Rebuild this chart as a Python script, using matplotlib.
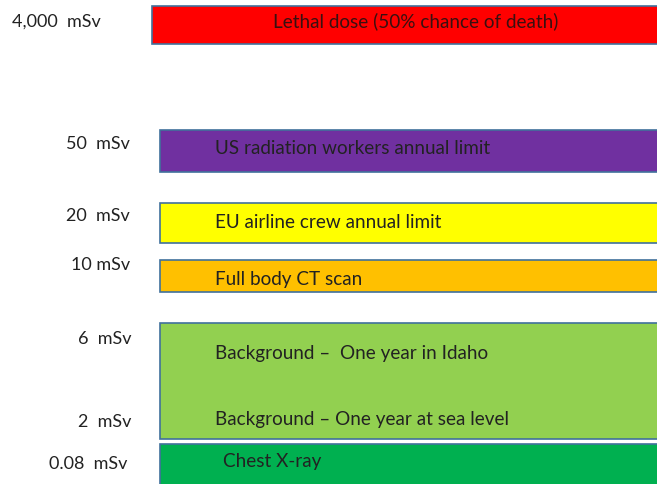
import matplotlib.pyplot as plt

# doses and what they mean
dose_labels = ["4,000  mSv", "50  mSv", "20  mSv", "10 mSv", "6  mSv", "2  mSv", "0.08  mSv"]
bar_texts = ["Lethal dose (50% chance of death)", "US radiation workers annual limit",
             "EU airline crew annual limit", "Full body CT scan", "", "Chest X-ray"]
bg_texts = ["Background \u2013  One year in Idaho", "Background \u2013 One year at sea level"]

# layout (pixel space, top -> bottom)
bar_left = [152, 160, 160, 160, 160, 160]
bar_top = [6, 130, 203, 260, 323, 444]
bar_bottom = [44, 172, 243, 292, 439, 490]
bar_colors = ["#ff0000", "#7030a0", "#ffff00", "#ffc000", "#92d050", "#00b050"]
text_x = [416, 215, 215, 215, 215, 223]
text_y = [21, 149, 222, 279, 0, 462]
bg_y = [354, 419]
label_y = [22, 144, 216, 265, 339, 422, 464]
label_right = [0, 130, 130, 130, 131, 131, 127]

plt.rcParams['font.family'] = ['Lato', 'DejaVu Sans']
desc_size = 13.6
lab_size = 13

fig = plt.figure(figsize=(6.57, 4.84), dpi=100)
ax = fig.add_axes([0, 0, 1, 1])
ax.set_xlim(0, 657)
ax.set_ylim(484, 0)
ax.axis('off')

for i in range(len(bar_colors)):
    h = bar_bottom[i] - bar_top[i]
    ax.barh(bar_top[i], 700 - bar_left[i], height=h, left=bar_left[i], align='edge',
            color=bar_colors[i], edgecolor='#41719c', linewidth=1.2)

for i, t in enumerate(bar_texts):
    if not t:
        continue
    ha = 'center' if i == 0 else 'left'
    col = '#3a1010' if i == 0 else '#222222'
    ax.text(text_x[i], text_y[i], t, ha=ha, va='center', fontsize=desc_size, color=col)
for t, y in zip(bg_texts, bg_y):
    ax.text(215, y, t, ha='left', va='center', fontsize=desc_size, color='#222222')

for i, lab in enumerate(dose_labels):
    if i == 0:
        ax.text(12, label_y[i], lab, ha='left', va='center', fontsize=lab_size, color='#222222')
    else:
        ax.text(label_right[i], label_y[i], lab, ha='right', va='center', fontsize=lab_size, color='#222222')

plt.savefig("out.png", dpi=100)
